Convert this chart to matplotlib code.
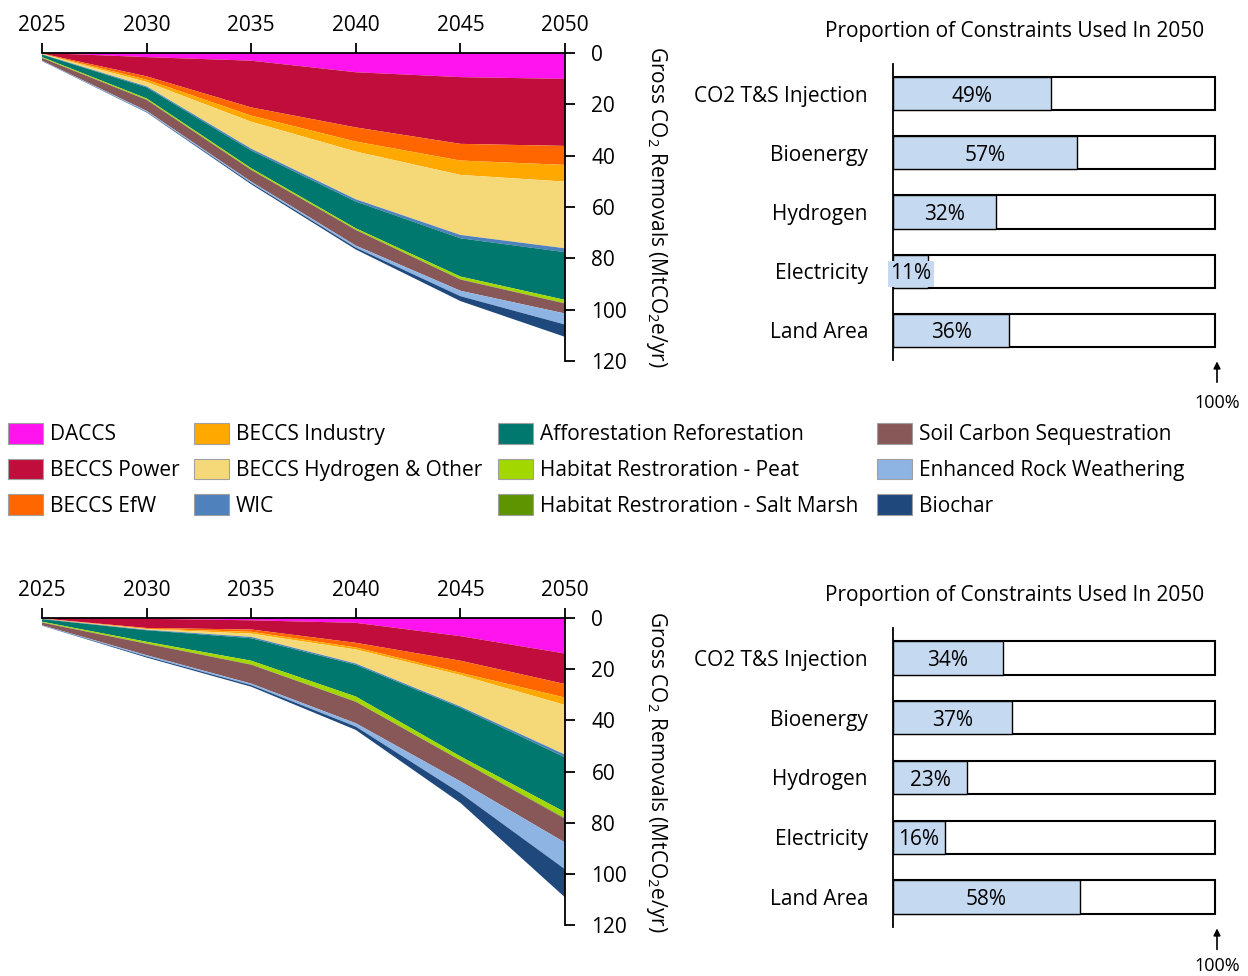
import matplotlib
matplotlib.use("Agg")
import matplotlib.pyplot as plt
from matplotlib.patches import Patch

plt.rcParams['font.family'] = ['Open Sans', 'DejaVu Sans']
plt.rcParams['mathtext.fontset'] = 'custom'
plt.rcParams['mathtext.rm'] = 'Open Sans'
plt.rcParams['mathtext.it'] = 'Open Sans'
plt.rcParams['mathtext.default'] = 'regular'

years = [2025, 2030, 2035, 2040, 2045, 2050]
categories = ["DACCS", "BECCS Power", "BECCS EfW", "BECCS Industry",
              "BECCS Hydrogen & Other", "WIC", "Afforestation Reforestation",
              "Habitat Restroration - Peat", "Habitat Restroration - Salt Marsh",
              "Soil Carbon Sequestration", "Enhanced Rock Weathering", "Biochar"]
colors = ["#FF14F0", "#C00D3C", "#FF6600", "#FFA800", "#F5D978", "#4F81BD",
          "#00786E", "#A2D800", "#5E9400", "#885858", "#8EB4E3", "#1F497D"]

# Scenario 1 (top) removals, MtCO2e/yr
top_daccs     = [0.0, 1.6, 3.0, 7.5, 9.4, 10.1]
top_power     = [0.2, 7.5, 18.2, 21.5, 26.0, 26.1]
top_efw       = [0.1, 1.3, 3.2, 5.5, 6.5, 7.4]
top_industry  = [0.1, 0.9, 2.4, 3.9, 5.6, 6.5]
top_hydrogen  = [0.1, 1.7, 10.5, 18.6, 23.4, 26.0]
top_wic       = [0.1, 0.4, 0.7, 0.9, 1.3, 1.5]
top_afforest  = [1.0, 4.3, 6.9, 10.4, 14.9, 18.6]
top_peat      = [0.3, 0.5, 0.6, 0.6, 1.1, 1.3]
top_saltmarsh = [0.05, 0.05, 0.05, 0.05, 0.05, 0.1]
top_soil      = [1.0, 4.3, 4.6, 6.1, 4.4, 3.9]
top_erw       = [0.1, 0.4, 0.5, 0.8, 2.1, 4.3]
top_biochar   = [0.1, 0.2, 0.5, 0.7, 1.9, 4.8]

# Scenario 2 (bottom) removals, MtCO2e/yr
bot_daccs     = [0.0, 0.3, 0.9, 1.9, 7.1, 13.9]
bot_power     = [0.2, 3.6, 3.6, 7.8, 9.6, 11.9]
bot_efw       = [0.05, 0.3, 0.9, 1.8, 4.7, 5.3]
bot_industry  = [0.05, 0.2, 0.7, 0.8, 0.9, 2.9]
bot_hydrogen  = [0.05, 0.2, 1.3, 5.5, 12.3, 19.4]
bot_wic       = [0.1, 0.2, 0.5, 0.5, 0.5, 1.1]
bot_afforest  = [1.0, 4.5, 8.8, 12.4, 19.0, 21.4]
bot_peat      = [0.3, 0.7, 1.5, 2.0, 1.5, 2.3]
bot_saltmarsh = [0.05, 0.05, 0.05, 0.05, 0.05, 0.3]
bot_soil      = [1.0, 4.5, 7.4, 8.4, 8.2, 9.3]
bot_erw       = [0.1, 0.5, 0.6, 1.3, 4.6, 10.4]
bot_biochar   = [0.1, 0.4, 0.6, 1.3, 3.8, 11.0]

constraints = ["CO2 T&S Injection", "Bioenergy", "Hydrogen", "Electricity", "Land Area"]
top_used = [49, 57, 32, 11, 36]
bot_used = [34, 37, 23, 16, 58]

top_series = [top_daccs, top_power, top_efw, top_industry, top_hydrogen, top_wic,
              top_afforest, top_peat, top_saltmarsh, top_soil, top_erw, top_biochar]
bot_series = [bot_daccs, bot_power, bot_efw, bot_industry, bot_hydrogen, bot_wic,
              bot_afforest, bot_peat, bot_saltmarsh, bot_soil, bot_erw, bot_biochar]

W, H = 1248, 976
fig = plt.figure(figsize=(W / 100, H / 100), dpi=100)

def fx(px):
    return px / W

def fy(py):
    return 1 - py / H

FS = 15
bar_fill = "#C5D9F1"


def area_panel(y0, y1, series):
    ax = fig.add_axes([fx(42), fy(y1), fx(565) - fx(42), fy(y0) - fy(y1)])
    ax.stackplot(years, *series, colors=colors, linewidth=0)
    ax.set_xlim(2025, 2050)
    ax.set_ylim(120, 0)
    ax.set_xticks(years)
    ax.set_yticks([0, 20, 40, 60, 80, 100, 120])
    ax.xaxis.tick_top()
    ax.yaxis.tick_right()
    ax.yaxis.set_label_position('right')
    for s in ['left', 'bottom']:
        ax.spines[s].set_visible(False)
    for s in ['top', 'right']:
        ax.spines[s].set_linewidth(1.3)
    ax.tick_params(axis='both', labelsize=FS, width=1.3, length=7, direction='out', pad=5)
    ax.tick_params(axis='y', pad=12)
    ax.set_ylabel("Gross CO$_2$ Removals (MtCO$_2$e/yr)", rotation=270,
                  fontsize=FS, labelpad=30)
    ax.patch.set_alpha(0)
    return ax


def bar_panel(y0, y1, title_y, values, hundred_off):
    ax = fig.add_axes([fx(893), fy(y1), fx(1217) - fx(893), fy(y0) - fy(y1)])
    ypos = list(range(len(constraints)))
    ax.barh(ypos, [100] * len(values), height=0.56, color='white',
            edgecolor='black', linewidth=1.5)
    ax.barh(ypos, values, height=0.56, color=bar_fill,
            edgecolor='black', linewidth=1.0)
    for y, v in zip(ypos, values):
        ax.text(v / 2, y, f"{v}%", ha='center', va='center_baseline', fontsize=FS,
                bbox=dict(boxstyle='square,pad=0.12', facecolor=bar_fill,
                          edgecolor='none'))
    ax.set_xlim(0, 100.5)
    ax.set_ylim(len(constraints) - 0.5, -0.5)
    ax.set_yticks(ypos)
    ax.set_yticklabels(constraints, fontsize=FS)
    ax.set_xticks([])
    ax.tick_params(axis='y', length=0, pad=18)
    for s in ['top', 'right', 'bottom']:
        ax.spines[s].set_visible(False)
    ax.spines['left'].set_linewidth(1.3)
    fig.text(fx(1015), fy(title_y), "Proportion of Constraints Used In 2050",
             ha='center', va='center', fontsize=FS)
    ax.annotate("", xy=(1.0, 0.0), xycoords='axes fraction',
                xytext=(1.0, -0.075), textcoords='axes fraction',
                arrowprops=dict(arrowstyle='-|>', color='black', lw=1.2,
                                mutation_scale=10, shrinkA=0, shrinkB=1))
    ax.text(1.0, -hundred_off, "100%", transform=ax.transAxes, ha='center',
            va='center', fontsize=FS - 2)
    return ax


area_panel(53, 361, top_series)
area_panel(618, 925, bot_series)
bar_panel(64, 360, 31, top_used, 0.145)
bar_panel(628, 927, 595, bot_used, 0.13)

# Legend: four columns, three rows
handles = [Patch(facecolor=c, edgecolor='#A0A0A0', linewidth=0.8) for c in colors]
col_x = [8, 194, 498, 877]
for i, x in enumerate(col_x):
    leg = fig.legend(handles[i * 3:(i + 1) * 3], categories[i * 3:(i + 1) * 3],
                     loc='upper left', bbox_to_anchor=(fx(x), fy(423)),
                     frameon=False, fontsize=FS, handlelength=1.68,
                     handleheight=1.15, handletextpad=0.34, labelspacing=0.635,
                     borderpad=0, borderaxespad=0)

fig.savefig("out.png", dpi=100)
